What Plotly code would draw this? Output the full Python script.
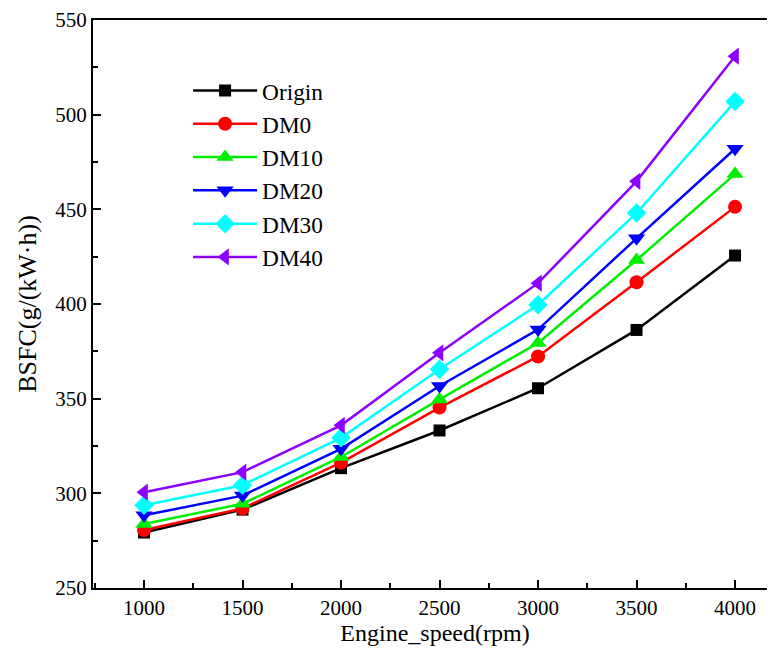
import plotly.graph_objects as go

speed = [1000, 1500, 2000, 2500, 3000, 3500, 4000]
origin = [279.3, 291.4, 313.3, 333.2, 355.5, 386.3, 425.6]
dm0 = [280.6, 292.0, 316.2, 345.3, 372.3, 411.5, 451.3]
dm10 = [283.8, 294.5, 319.2, 349.6, 379.4, 423.2, 468.6]
dm20 = [288.4, 298.8, 323.5, 356.7, 386.5, 434.7, 482.0]
dm30 = [293.7, 304.3, 329.3, 365.5, 399.6, 448.0, 506.9]
dm40 = [300.6, 311.2, 335.9, 374.2, 411.0, 464.8, 530.9]

names = ["Origin", "DM0", "DM10", "DM20", "DM30", "DM40"]
series = [origin, dm0, dm10, dm20, dm30, dm40]
colors = ["#000000", "#FF0000", "#00EE00", "#0000FF", "#00FFFF", "#8B00FF"]
symbols = ["square", "circle", "triangle-up", "triangle-down", "diamond", "triangle-left"]
sizes = [12, 14, 15, 15, 15, 15]

fig = go.Figure()
for n, s, c, m, sz in zip(names, series, colors, symbols, sizes):
    fig.add_trace(go.Scatter(
        x=speed, y=s, name=n, mode="lines+markers",
        line=dict(color=c, width=2.5),
        marker=dict(symbol=m, size=sz, color=c, line=dict(width=0)),
    ))

font = "Liberation Serif, Times New Roman, serif"
fig.update_layout(
    width=769, height=649,
    margin=dict(l=85, r=0, t=12, b=69, autoexpand=False),
    plot_bgcolor="white", paper_bgcolor="white",
    font=dict(family=font, size=21, color="black"),
    showlegend=True,
    legend=dict(x=0.139, y=0.914, xanchor="left", yanchor="top",
                bgcolor="rgba(0,0,0,0)", font=dict(size=23.3, family=font),
                itemwidth=64, tracegroupgap=0),
)
fig.update_xaxes(
    range=[741, 4213], tickvals=speed, showgrid=False, zeroline=False,
    showline=True, linecolor="black", linewidth=2, mirror=True,
    ticks="inside", ticklen=8, tickwidth=2, tickcolor="black",
    minor=dict(ticks="inside", ticklen=5, tickwidth=2, tickcolor="black", dtick=250, tick0=1000),
    title=dict(text="Engine_speed(rpm)", font=dict(size=24, family=font), standoff=0),
    tickfont=dict(size=21, family=font), automargin=False, ticklabeloverflow="allow",
)
fig.update_yaxes(
    range=[250, 550], dtick=50, showgrid=False, zeroline=False,
    showline=True, linecolor="black", linewidth=2, mirror=True,
    ticks="inside", ticklen=8, tickwidth=2, tickcolor="black",
    minor=dict(ticks="inside", ticklen=5, tickwidth=2, tickcolor="black", dtick=25),
    title=dict(text="BSFC(g/(kW·h))", font=dict(size=26, family=font), standoff=11),
    tickfont=dict(size=21, family=font), automargin=False, ticklabeloverflow="allow",
)
fig.write_html("out.html")
